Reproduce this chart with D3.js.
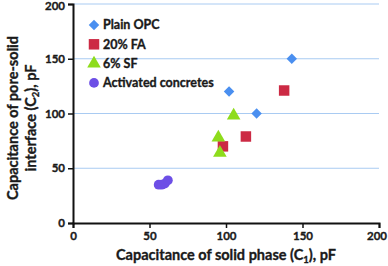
<!DOCTYPE html>
<html>
<head>
<meta charset="utf-8">
<script src="https://cdn.jsdelivr.net/npm/d3@7"></script>
<style>
  body { margin: 0; background: #fff; }
  text { font-family: Lato, "Open Sans", sans-serif; font-weight: bold; fill: #1a1a1a; stroke: #1a1a1a; stroke-width: 0.35px; }
</style>
</head>
<body>
<div id="chart"></div>
<script>
// Chart values
var seriesNames = ["Plain OPC", "20% FA", "6% SF", "Activated concretes"];
var plainOPC = [[143, 150], [102, 120], [120, 100]];
var fa20 = [[138, 121], [113, 79], [98, 70]];
var sf6 = [[105, 98], [95, 78], [96, 64]];
var activated = [[56, 35], [58, 35], [60, 36], [62, 39]];
var xTicks = [0, 50, 100, 150, 200];
var yTicks = [0, 50, 100, 150, 200];

var width = 388, height = 266;
var margin = { top: 4, right: 9, bottom: 43, left: 73 };

var svg = d3.select("#chart").append("svg")
  .attr("width", width)
  .attr("height", height);

var x = d3.scaleLinear().domain([0, 200]).range([margin.left, width - margin.right]);
var y = d3.scaleLinear().domain([0, 200]).range([height - margin.bottom, margin.top]);

// Gridlines
svg.append("g").selectAll("line")
  .data(yTicks.slice(1))
  .enter().append("line")
  .attr("x1", x(0)).attr("x2", x(200))
  .attr("y1", function(d) { return y(d); })
  .attr("y2", function(d) { return y(d); })
  .attr("stroke", "#a9cbf2")
  .attr("stroke-width", 1);

// Axes
var xAxis = svg.append("g")
  .attr("transform", "translate(0," + y(0) + ")")
  .call(d3.axisBottom(x).tickValues(xTicks).tickSize(5).tickPadding(4));
var yAxis = svg.append("g")
  .attr("transform", "translate(" + x(0) + ",0)")
  .call(d3.axisLeft(y).tickValues(yTicks).tickSize(5).tickPadding(3));

[xAxis, yAxis].forEach(function(a) {
  a.select(".domain").attr("stroke", "#111").attr("stroke-width", 2);
  a.selectAll(".tick line").attr("stroke", "#111").attr("stroke-width", 1.5);
  a.selectAll(".tick text").style("font-size", "11.5px").style("font-family", "Lato, sans-serif").style("font-weight", "bold").attr("fill", "#1a1a1a");
});
// keep the edge labels inside the picture
yAxis.selectAll(".tick text").filter(function(d) { return d === 200; }).attr("dy", "0.45em");
xAxis.selectAll(".tick text").filter(function(d) { return d === 200; }).attr("dx", -2.5);

// Series markers
var series = [
  { name: seriesNames[0], data: plainOPC, shape: d3.symbolDiamond2, size: 70, color: "#4a8ff0" },
  { name: seriesNames[1], data: fa20, shape: d3.symbolSquare, size: 110, color: "#cc2a44" },
  { name: seriesNames[2], data: sf6, shape: d3.symbolTriangle, size: 80, color: "#8edc1c" },
  { name: seriesNames[3], data: activated, shape: d3.symbolCircle, size: 75, color: "#6d4fe6" }
];

series.forEach(function(s) {
  svg.append("g").selectAll("path")
    .data(s.data)
    .enter().append("path")
    .attr("d", d3.symbol().type(s.shape).size(s.size))
    .attr("transform", function(d) { return "translate(" + x(d[0]) + "," + y(d[1]) + ")"; })
    .attr("fill", s.color);
});

// Legend
var legend = svg.selectAll(".legend")
  .data(series)
  .enter().append("g")
  .attr("class", "legend")
  .attr("transform", function(d, i) { return "translate(94," + (25 + i * 19.3) + ")"; });

legend.append("path")
  .attr("d", function(d) { return d3.symbol().type(d.shape).size(d.size)(); })
  .attr("fill", function(d) { return d.color; });

legend.append("text")
  .attr("x", 9)
  .attr("dy", "0.35em")
  .style("font-size", "12.5px")
  .text(function(d) { return d.name; });

// Axis titles
var xt = svg.append("text")
  .attr("x", (x(0) + x(200)) / 2)
  .attr("y", 260)
  .attr("text-anchor", "middle")
  .style("font-size", "14.5px");
xt.append("tspan").text("Capacitance of solid phase (C");
xt.append("tspan").text("1").style("font-size", "9.5px").attr("dy", 3);
xt.append("tspan").text("), pF").attr("dy", -3);

var yt = svg.append("g").attr("transform", "translate(0,118) rotate(-90)");
yt.append("text")
  .attr("x", 0).attr("y", 18)
  .attr("text-anchor", "middle")
  .style("font-size", "14.5px")
  .text("Capacitance of pore-solid");
var yt2 = yt.append("text")
  .attr("x", 0).attr("y", 36)
  .attr("text-anchor", "middle")
  .style("font-size", "14.5px");
yt2.append("tspan").text("interface (C");
yt2.append("tspan").text("2").style("font-size", "9.5px").attr("dy", 3);
yt2.append("tspan").text("), pF").attr("dy", -3);
</script>
</body>
</html>
